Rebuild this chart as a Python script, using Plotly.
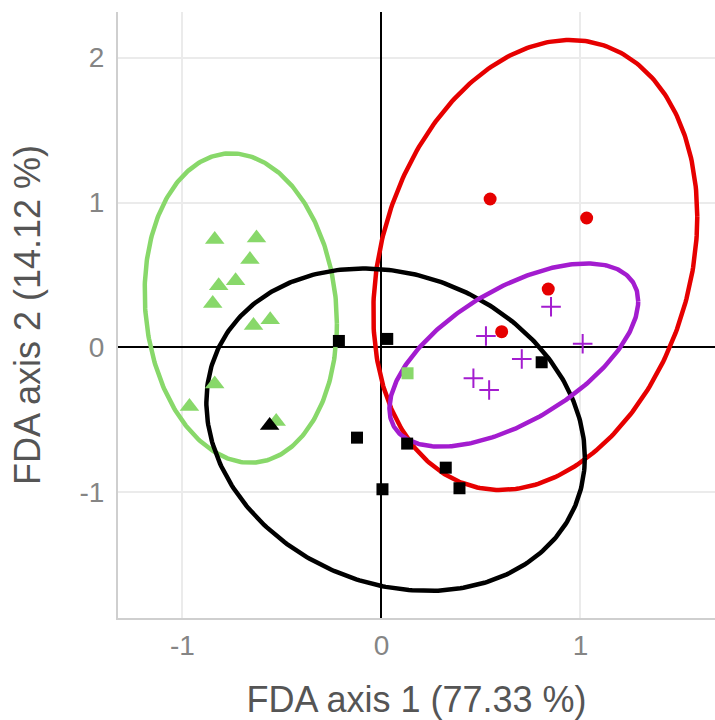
import numpy as np
import plotly.graph_objects as go

# Individual scores on the first two discriminant axes, by group
green_x = [-0.838, -0.628, -0.661, -0.733, -0.818, -0.848, -0.559, -0.643, -0.838, -0.965, -0.529]
green_y = [0.744, 0.755, 0.606, 0.461, 0.426, 0.303, 0.192, 0.151, -0.252, -0.408, -0.511]
green_sq_x = [0.131]
green_sq_y = [-0.178]
black_sq_x = [-0.214, 0.029, -0.123, 0.129, 0.005, 0.805, 0.323, 0.392]
black_sq_y = [0.045, 0.059, -0.622, -0.663, -0.978, -0.102, -0.829, -0.971]
black_tri_x = [-0.562]
black_tri_y = [-0.539]
red_x = [0.546, 1.031, 0.838, 0.604]
red_y = [1.024, 0.893, 0.403, 0.109]
purple_x = [0.852, 0.525, 1.011, 0.705, 0.462, 0.541]
purple_y = [0.281, 0.079, 0.026, -0.079, -0.212, -0.293]

# Confidence ellipses: centre, half-extent along x and y, and correlation (tilt)
ell_names = ["green", "red", "black", "purple"]
ell_cx = [-0.707, 0.773, 0.071, 0.665]
ell_cy = [0.272, 0.569, -0.567, -0.052]
ell_sx = [0.483, 0.814, 0.951, 0.625]
ell_sy = [1.067, 1.552, 1.112, 0.632]
ell_rho = [-0.099, 0.215, -0.170, 0.586]

x_ticks = [-1, 0, 1]
y_ticks = [-1, 0, 1, 2]

COL = {"green": "#88D86A", "red": "#E60000", "black": "#000000", "purple": "#A31CCF"}
FONT = "Liberation Sans, Arial, sans-serif"

fig = go.Figure()

t = np.linspace(0, 2 * np.pi, 361)
for name, cx, cy, sx, sy, rho in zip(ell_names, ell_cx, ell_cy, ell_sx, ell_sy, ell_rho):
    ex = cx + sx * np.cos(t)
    ey = cy + sy * (rho * np.cos(t) + np.sqrt(1 - rho ** 2) * np.sin(t))
    fig.add_trace(go.Scatter(x=ex, y=ey, mode="lines",
                             line=dict(color=COL[name], width=4.5), hoverinfo="skip"))

fig.add_trace(go.Scatter(x=green_x, y=green_y, mode="markers",
                         marker=dict(symbol="triangle-up", size=17, color=COL["green"])))
fig.add_trace(go.Scatter(x=green_sq_x, y=green_sq_y, mode="markers",
                         marker=dict(symbol="square", size=12, color=COL["green"])))
fig.add_trace(go.Scatter(x=red_x, y=red_y, mode="markers",
                         marker=dict(symbol="circle", size=13, color=COL["red"])))
fig.add_trace(go.Scatter(x=purple_x, y=purple_y, mode="markers",
                         marker=dict(symbol="cross-thin", size=14,
                                     line=dict(color=COL["purple"], width=2))))
fig.add_trace(go.Scatter(x=black_sq_x, y=black_sq_y, mode="markers",
                         marker=dict(symbol="square", size=12, color=COL["black"])))
fig.add_trace(go.Scatter(x=black_tri_x, y=black_tri_y, mode="markers",
                         marker=dict(symbol="triangle-up", size=17, color=COL["black"])))

axis_common = dict(
    showgrid=True, gridcolor="#EBEBEB", gridwidth=1.5,
    zeroline=True, zerolinecolor="#000000", zerolinewidth=2,
    showline=True, linecolor="#CFCFCF", linewidth=2,
    ticks="", tickfont=dict(family=FONT, size=28, color="#858585"),
)

fig.update_xaxes(range=[-1.324, 1.676], tickvals=x_ticks, ticktext=[str(v) for v in x_ticks],
                 title=dict(text="FDA axis 1 (77.33 %)", font=dict(family=FONT, size=36, color="#555555"),
                            standoff=28),
                 ticklabelstandoff=1, **axis_common)
fig.update_yaxes(range=[-1.866, 2.314], tickvals=y_ticks, ticktext=[str(v) for v in y_ticks],
                 title=dict(text="FDA axis 2 (14.12 %)", font=dict(family=FONT, size=36, color="#555555"),
                            standoff=28),
                 ticklabelstandoff=6, **axis_common)

fig.update_layout(
    width=715, height=720,
    margin=dict(l=118, r=0, t=12, b=102),
    plot_bgcolor="#FFFFFF", paper_bgcolor="#FFFFFF",
    showlegend=False,
    font=dict(family=FONT),
)

fig.write_html("out.html")
